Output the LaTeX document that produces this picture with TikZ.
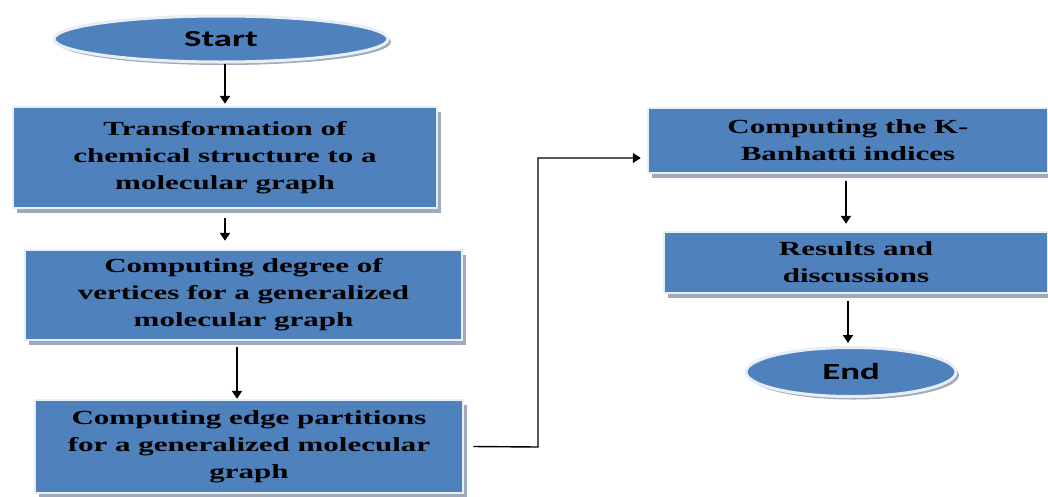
\documentclass[tikz,border=0pt]{standalone}
\usepackage{fontspec}
\usetikzlibrary{arrows.meta,shapes.geometric,shadows}
\newfontfamily\boxfont[FakeStretch=1.55]{Liberation Serif}
\newfontfamily\termfont[FakeStretch=1.6]{Carlito}
\definecolor{boxblue}{RGB}{79,129,189}
\definecolor{ringc}{RGB}{232,238,245}
\definecolor{shadowc}{RGB}{160,170,186}
\tikzset{
  stepbox/.style={rectangle, fill=boxblue, draw=ringc, line width=2.5pt, inner sep=0pt,
    align=center, font=\boxfont\bfseries\fontsize{20}{27}\selectfont,
    drop shadow={shadow xshift=4pt, shadow yshift=-5pt, fill=shadowc, opacity=1}},
  term/.style={ellipse, fill=boxblue, draw=ringc, line width=3pt, inner sep=0pt,
    font=\termfont\bfseries\fontsize{23}{26}\selectfont,
    drop shadow={shadow xshift=3pt, shadow yshift=-3pt, fill=shadowc, opacity=1}},
  arr/.style={draw=black, line width=2pt, -{Triangle[width=10pt,length=8pt]}},
  conn/.style={draw=black, line width=1.4pt, -{Triangle[width=10pt,length=8pt]}}
}
\begin{document}
\begin{tikzpicture}[x=1pt,y=-1pt]
\clip (0,0) rectangle (1048,496);
\fill[white] (0,0) rectangle (1048,496);

\node[term, minimum width=334pt, minimum height=46pt] (start) at (221,39) {Start};
\node[stepbox, minimum width=424pt, minimum height=101pt] (b1) at (225,157.5)
  {Transformation of\\chemical structure to a\\molecular graph};
\node[stepbox, minimum width=437pt, minimum height=90pt] (b2) at (243.5,295)
  {Computing degree of\\vertices for a generalized\\molecular graph};
\node[stepbox, minimum width=428pt, minimum height=93pt] (b3) at (249,446.5)
  {Computing edge partitions\\for a generalized molecular\\graph};
\node[stepbox, minimum width=400pt, minimum height=65pt] (b4) at (848,140.5)
  {Computing the K-\\Banhatti indices};
\node[stepbox, minimum width=384pt, minimum height=61pt] (b5) at (856,262.5)
  {Results and\\discussions};
\node[term, minimum width=210pt, minimum height=49pt] (end) at (851,372) {End};

\draw[arr] (b1.north |- start.south) -- ([yshift=2pt]b1.north);
\draw[arr, shorten <=9pt] (b1.south) -- ([yshift=8pt]b1.south |- b2.north);
\draw[arr, shorten <=7pt] (237,340) coordinate (c2) -- (c2 |- b3.north);
\coordinate (k) at (538,447);
\draw[conn] ([xshift=9pt]b3.east) -- (k) |- ([xshift=-6pt,yshift=-17.5pt]b4.west);
\draw[arr, shorten <=8pt] (846,173) coordinate (c4) -- ([yshift=7pt]c4 |- b5.north);
\draw[arr, shorten <=8pt] (848,293) coordinate (c5) -- ([yshift=3pt]c5 |- end.north);
\end{tikzpicture}
\end{document}
